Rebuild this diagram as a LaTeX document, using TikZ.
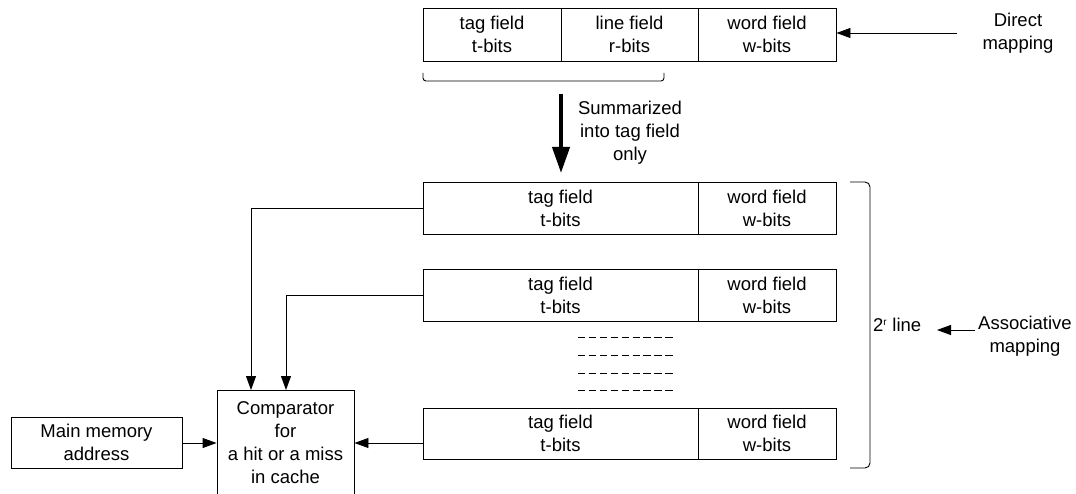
\documentclass[tikz,border=0pt]{standalone}
\usepackage{fontspec}
\setmainfont{Liberation Sans}
\usetikzlibrary{arrows.meta}
\begin{document}
\begin{tikzpicture}[x=1pt,y=-1pt,
  every node/.style={font=\fontsize{18.5}{23}\selectfont, align=center, inner sep=0pt},
  field/.style={draw, line width=0.9pt, minimum height=52pt},
  box/.style={draw, line width=0.9pt},
  conn/.style={line width=0.9pt, -{Triangle[length=14pt,width=10pt]}},
  bigarrow/.style={line width=4pt, -{Triangle[length=26pt,width=17pt]}},
  plain/.style={line width=0.9pt},
  txt/.style={draw=none}]
\clip (0,0) rectangle (1076,494);
\fill[white] (0,0) rectangle (1076,494);
% top (direct mapping) address
\node[field, minimum width=138pt, minimum height=53pt] (dtag) at (492,34.5) {tag field\\t-bits};
\node[field, minimum width=137pt, minimum height=53pt] (dline) at (629.5,34.5) {line field\\r-bits};
\node[field, minimum width=138pt, minimum height=53pt] (dword) at (767,34.5) {word field\\w-bits};
\node[txt] (direct) at (1018,33.5) {Direct\\mapping};
\coordinate (dstart) at (957,33);
\draw[conn] (dstart) -- (dword.east |- dstart);
% bracket under tag+line
\coordinate (brl) at (423,73);
\coordinate (brr) at (664,73);
\draw[plain, rounded corners=3pt] (brl) -- ++(0,8) -- (brr |- 0,81) -- (brr);
% thick arrow
\coordinate (ta) at (561,94);
\coordinate (tb) at (561,173);
\draw[bigarrow] (ta) -- (tb);
\node[txt] (summ) at (630,132.5) {Summarized\\into tag field\\only};
% associative lines
\node[field, minimum width=275pt] (t1) at (560.5,208) {tag field\\t-bits};
\node[field, minimum width=138pt] (w1) at (767,208) {word field\\w-bits};
\node[field, minimum width=275pt] (t2) at (560.5,295) {tag field\\t-bits};
\node[field, minimum width=138pt] (w2) at (767,295) {word field\\w-bits};
\node[field, minimum width=275pt, minimum height=51pt] (t3) at (560.5,433.5) {tag field\\t-bits};
\node[field, minimum width=138pt, minimum height=51pt] (w3) at (767,433.5) {word field\\w-bits};
% dashed rows
\foreach \yy [count=\i] in {337,355,373,390} {
  \coordinate (dl\i) at (578,\yy);
  \coordinate (dr\i) at (672.6,\yy);
  \draw[line width=0.8pt, dash pattern=on 7.4pt off 3.5pt] (dl\i) -- (dr\i);
}
% right bracket
\coordinate (rbt) at (850,182);
\coordinate (rbb) at (850,468);
\draw[plain, rounded corners=5pt] (rbt) -- (870,182) -- (870,468) -- (rbb);
\node[txt, anchor=west] (lines) at (873,325) {2\textsuperscript{\fontsize{10}{10}\selectfont r} line};
\node[txt] (assoc) at (1025,336.5) {Associative\\mapping};
\coordinate (astart) at (975,330);
\draw[conn] (astart) -- (937,330);
% comparator and main memory
\node[box, minimum width=137pt, minimum height=106pt] (cmp) at (285.5,443) {Comparator\\for\\a hit or a miss\\in cache};
\node[box, minimum width=171pt, minimum height=51pt] (mm) at (96.5,442.5) {Main memory\\address};
\draw[conn] (mm.east |- cmp.west) -- (cmp.west);
\draw[conn] (t3.west |- cmp.east) -- (cmp.east);
\draw[conn] (t1.west) -| (251,390);
\draw[conn] (t2.west) -| (286,390);
\end{tikzpicture}
\end{document}
